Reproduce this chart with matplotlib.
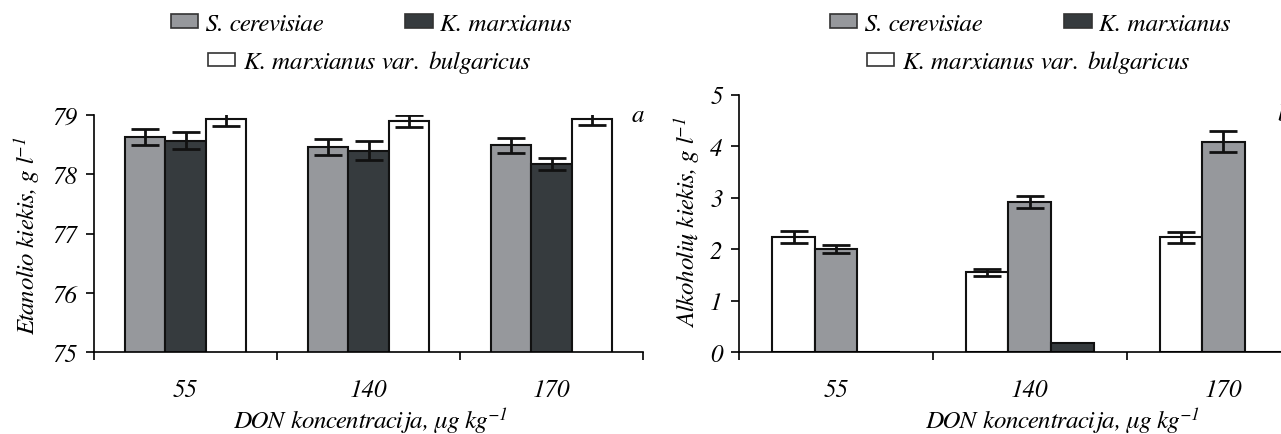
import numpy as np
import matplotlib
matplotlib.use("Agg")
import matplotlib.pyplot as plt
from matplotlib.patches import Patch

plt.rcParams['font.family'] = ['FreeSerif', 'Liberation Serif', 'DejaVu Serif']
plt.rcParams['font.style'] = 'italic'
plt.rcParams['mathtext.fontset'] = 'custom'
plt.rcParams['mathtext.rm'] = 'FreeSerif'
plt.rcParams['mathtext.it'] = 'FreeSerif:italic'

# data
konc = ['55', '140', '170']
# a) ethanol, g/l
etanolis_sc = [78.63, 78.46, 78.49]
etanolis_km = [78.57, 78.40, 78.17]
etanolis_kmb = [78.93, 78.90, 78.93]
etanolis_sc_err = [0.13, 0.13, 0.13]
etanolis_km_err = [0.14, 0.16, 0.10]
etanolis_kmb_err = [0.12, 0.10, 0.10]
# b) higher alcohols, g/l
alk_kmb = [2.24, 1.55, 2.23]
alk_sc = [2.00, 2.92, 4.09]
alk_km = [0.0, 0.19, 0.0]
alk_kmb_err = [0.12, 0.065, 0.10]
alk_sc_err = [0.08, 0.12, 0.21]

GRAY = '#96989c'
DARK = '#363b3e'
WHITE = '#ffffff'
FS = 18
W = 0.22

fig = plt.figure(figsize=(12.81, 4.35), dpi=100)
axA = fig.add_axes([94/1281, 1-353.3/435, 549/1281, 237.3/435])
axB = fig.add_axes([739.3/1281, 1-353.3/435, 581/1281, 257.6/435])

x = np.arange(len(konc))


def bars(ax, vals, errs, colors):
    offs = [-W, 0, W]
    for v, e, c, o in zip(vals, errs, colors, offs):
        ax.bar(x + o, v, W, color=c, edgecolor='#111111', linewidth=1.5, zorder=2)
        if e is not None:
            ax.errorbar(x + o, v, yerr=e, fmt='none', ecolor='#111111',
                        elinewidth=2, capsize=10, capthick=2, zorder=3)


def style(ax, ymin, ymax):
    for s in ['top', 'right']:
        ax.spines[s].set_visible(False)
    for s in ['left', 'bottom']:
        ax.spines[s].set_linewidth(1.2)
    ax.set_ylim(ymin, ymax)
    ax.set_xlim(-0.5, 2.5)
    ax.set_yticks(np.arange(ymin, ymax + 1))
    ax.set_xticks([-0.5, 0.5, 1.5, 2.5])
    ax.set_xticklabels([])
    ax.set_xticks(x, minor=True)
    ax.set_xticklabels(konc, minor=True)
    ax.tick_params(axis='x', which='major', length=6, width=1.2, direction='out')
    ax.tick_params(axis='x', which='minor', length=0, pad=19, labelsize=FS)
    ax.tick_params(axis='y', length=6, width=1.2, pad=6, labelsize=FS)
    ax.patch.set_alpha(0)


bars(axA, [etanolis_sc, etanolis_km, etanolis_kmb],
     [etanolis_sc_err, etanolis_km_err, etanolis_kmb_err], [GRAY, DARK, WHITE])
style(axA, 75, 79)
axA.set_ylabel('Etanolio kiekis, g l$^{-1}$', fontsize=FS)
axA.yaxis.set_label_coords(-0.122, 0.494)
axA.yaxis.label.set_va('center')
axA.set_xlabel('DON koncentracija, μg kg$^{-1}$', fontsize=FS)
axA.xaxis.set_label_coords(0.503, -0.284)
axA.xaxis.label.set_va('center')
axA.text(2.47, 79.0, 'a', fontsize=FS, ha='center', va='center')

bars(axB, [alk_kmb, alk_sc, alk_km], [alk_kmb_err, alk_sc_err, None],
     [WHITE, GRAY, DARK])
style(axB, 0, 5)
axB.set_ylabel('Alkoholių kiekis, g l$^{-1}$', fontsize=FS)
axB.yaxis.set_label_coords(-0.090, 0.51)
axB.yaxis.label.set_va('center')
axB.set_xlabel('DON koncentracija, μg kg$^{-1}$', fontsize=FS)
axB.xaxis.set_label_coords(0.557, -0.262)
axB.xaxis.label.set_va('center')
axB.text(2.31, 4.63, 'b', fontsize=FS, ha='center', va='center')

# legends above each panel
names = ['S. cerevisiae', 'K. marxianus',
         'K. marxianus $\\mathrm{var.}\\ $bulgaricus']
cols = [GRAY, DARK, WHITE]
for cx1, cx2 in [(371, 369), (1030, 1028)]:
    h = [Patch(facecolor=c, edgecolor='#333333', linewidth=1.2) for c in cols]
    l1 = fig.legend(h[:2], names[:2], ncol=2, loc='center',
                    bbox_to_anchor=(cx1/1281, 1-25/435), frameon=False,
                    fontsize=FS, handlelength=1.1, handleheight=0.45,
                    handletextpad=0.3, columnspacing=3.3, borderpad=0)
    l2 = fig.legend(h[2:], names[2:], loc='center',
                    bbox_to_anchor=(cx2/1281, 1-63/435), frameon=False,
                    fontsize=FS, handlelength=1.1, handleheight=0.45,
                    handletextpad=0.3, borderpad=0)

fig.savefig('out.png', dpi=100)
